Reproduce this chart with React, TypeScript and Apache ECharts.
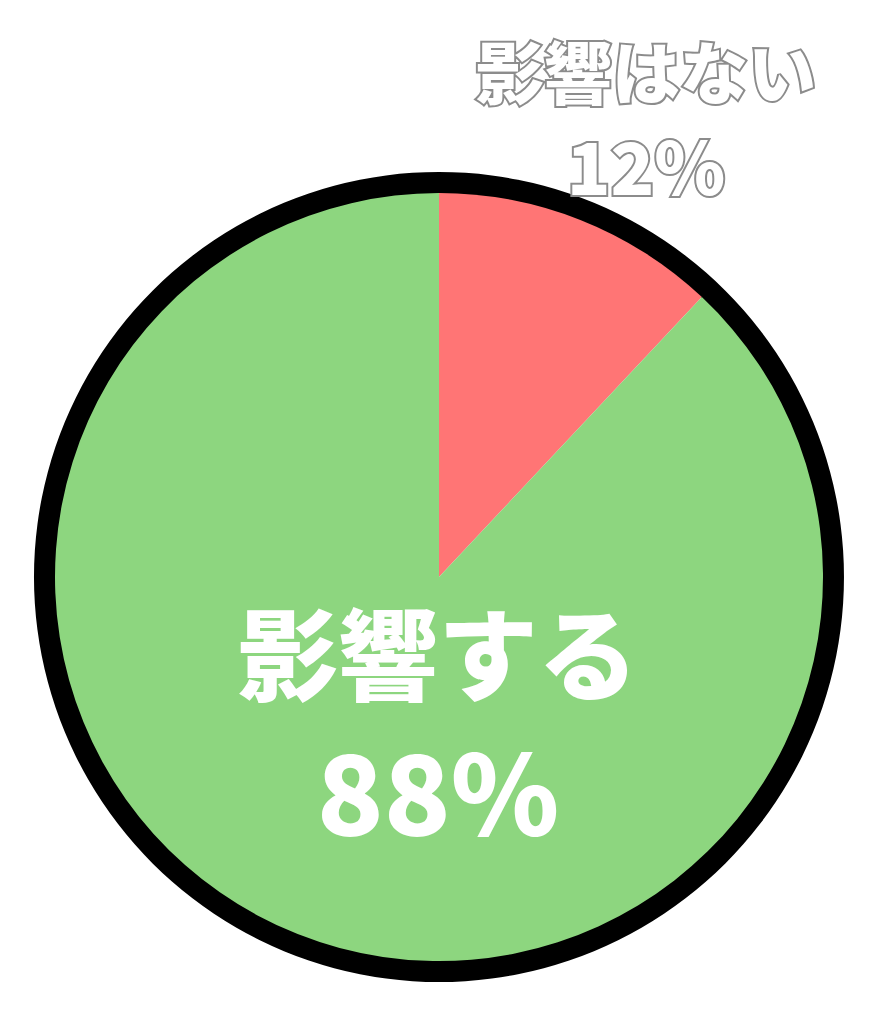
import { useEffect, useRef } from "react";
import * as echarts from "echarts";

// 影響あり/なし の円グラフ (12 時から時計回り)
const CATEGORIES = ["影響はない", "影響する"];
const VALUES = [12, 88];
const COLORS = ["#ff7575", "#8dd67f"];

const FONT = '"Noto Sans CJK JP", "Noto Sans", sans-serif';

export default function App() {
  const ref = useRef<HTMLDivElement>(null);

  useEffect(() => {
    if (!ref.current) return;
    const inst = echarts.init(ref.current, undefined, { renderer: "svg" });

    inst.setOption({
      backgroundColor: "#ffffff",
      animation: false,
      series: [
        {
          // 黒い外枠
          type: "pie",
          silent: true,
          center: [439, 577],
          radius: [383, 405],
          label: { show: false },
          labelLine: { show: false },
          itemStyle: { color: "#000000" },
          data: [{ value: 1, name: "frame" }],
        },
        {
          type: "pie",
          center: [439, 577],
          radius: [0, 384],
          startAngle: 90,
          clockwise: true,
          labelLine: { show: false },
          data: CATEGORIES.map((name, i) => ({
            name,
            value: VALUES[i],
            itemStyle: { color: COLORS[i] },
            label: i === 0
              ? {
                  show: true,
                  overflow: "none",
                  width: 500,
                  formatter: "{a|{b}}\n{b|{c}%}",
                  rich: {
                    a: {
                      fontFamily: FONT, fontWeight: 900, fontSize: 68, lineHeight: 94,
                      color: "#ffffff", textBorderColor: "#8c8c8c", textBorderWidth: 4,
                    },
                    b: {
                      fontFamily: FONT, fontWeight: 900, fontSize: 72, lineHeight: 94,
                      color: "#ffffff", textBorderColor: "#8c8c8c", textBorderWidth: 4,
                    },
                  },
                }
              : {
                  show: true,
                  overflow: "none",
                  width: 600,
                  formatter: "{a|{b}}\n{b|{c}%}",
                  rich: {
                    a: { fontFamily: FONT, fontWeight: 900, fontSize: 100, lineHeight: 137, color: "#ffffff" },
                    b: { fontFamily: FONT, fontWeight: 900, fontSize: 110, lineHeight: 137, color: "#ffffff" },
                  },
                },
          })),
          labelLayout: (p: { dataIndex: number }) =>
            p.dataIndex === 0
              ? { x: 646, y: 116, align: "center", verticalAlign: "middle" }
              : { x: 438, y: 718, align: "center", verticalAlign: "middle" },
        },
      ],
    });

    return () => inst.dispose();
  }, []);

  return (
    <div
      ref={ref}
      style={{ position: "fixed", left: 0, top: 0, width: 873, height: 1024, background: "#fff" }}
    />
  );
}
